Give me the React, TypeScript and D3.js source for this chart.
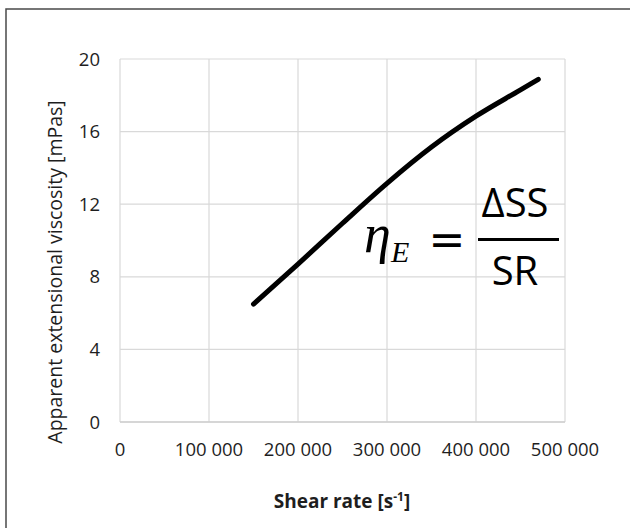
import React from "react";
import * as d3 from "d3";

const shearRate = [150000, 200000, 250000, 300000, 350000, 400000, 450000, 470000];
const viscosity = [6.5, 8.7, 10.95, 13.15, 15.15, 16.85, 18.3, 18.88];
const xTicks = [0, 100000, 200000, 300000, 400000, 500000];
const yTicks = [0, 4, 8, 12, 16, 20];
const xTickLabels = ["0", "100 000", "200 000", "300 000", "400 000", "500 000"];
const yTitle = "Apparent extensional viscosity [mPas]";
const xTitle = "Shear rate [s";
const xTitleSup = "-1";

export default function App() {
  const W = 630, H = 528;
  const x = d3.scaleLinear().domain([0, 500000]).range([120, 565]);
  const y = d3.scaleLinear().domain([0, 20]).range([422, 59]);
  const pts = shearRate.map((s, i) => [s, viscosity[i]] as [number, number]);
  const line = d3.line<[number, number]>().x(d => x(d[0])).y(d => y(d[1])).curve(d3.curveMonotoneX);
  const font = "'Open Sans', sans-serif";
  const grid = "#d9d9d9";
  const txt = "#1e1e1e";
  return (
    <svg width={W} height={H} style={{ position: "absolute", left: 0, top: 0, background: "#fff" }}>
      <rect x={6} y={9} width={700} height={700} fill="#fff" stroke="#4a4a4a" strokeWidth={1.5} />
      {yTicks.map(t => (
        <line key={"h" + t} x1={x(0)} x2={x(500000)} y1={y(t)} y2={y(t)} stroke={grid} strokeWidth={1.2} />
      ))}
      {xTicks.map(t => (
        <line key={"v" + t} x1={x(t)} x2={x(t)} y1={y(0)} y2={y(20)} stroke={grid} strokeWidth={1.2} />
      ))}
      <line x1={x(0)} x2={x(500000)} y1={y(0)} y2={y(0)} stroke="#cfcfcf" strokeWidth={1.3} />
      {yTicks.map(t => (
        <text key={"yl" + t} x={100} y={y(t) + 6.5} textAnchor="end" fontFamily={font} fontSize={18.5} fill={txt}>{t}</text>
      ))}
      {xTicks.map((t, i) => (
        <text key={"xl" + t} x={x(t)} y={456} textAnchor="middle" fontFamily={font} fontSize={18.5} fill={txt}>{xTickLabels[i]}</text>
      ))}
      <text transform="translate(62,272) rotate(-90)" textAnchor="middle" fontFamily={font} fontSize={19.5} fill={txt}>{yTitle}</text>
      <text x={342} y={508} textAnchor="middle" fontFamily={font} fontSize={19} fontWeight="bold" fill={txt}>
        {xTitle}<tspan dy={-7} fontSize={12}>{xTitleSup}</tspan><tspan dy={7}>]</tspan>
      </text>
      <path d={line(pts) || ""} fill="none" stroke="#000" strokeWidth={5} strokeLinecap="round" strokeLinejoin="round" />
      <text x={364} y={252} fontFamily="'Liberation Serif', serif" fontStyle="italic" fontSize={54} fill="#000">η</text>
      <text x={391} y={262} fontFamily="'Liberation Serif', serif" fontStyle="italic" fontSize={30} fill="#000">E</text>
      <text x={447} y={255} textAnchor="middle" fontFamily="'DejaVu Sans', sans-serif" fontSize={44} fill="#000">=</text>
      <line x1={478} x2={559} y1={239.5} y2={239.5} stroke="#000" strokeWidth={3} />
      <text x={515} y={217} textAnchor="middle" fontFamily={font} fontSize={40} fill="#000">ΔSS</text>
      <text x={515} y={285} textAnchor="middle" fontFamily={font} fontSize={40} fill="#000">SR</text>
    </svg>
  );
}
